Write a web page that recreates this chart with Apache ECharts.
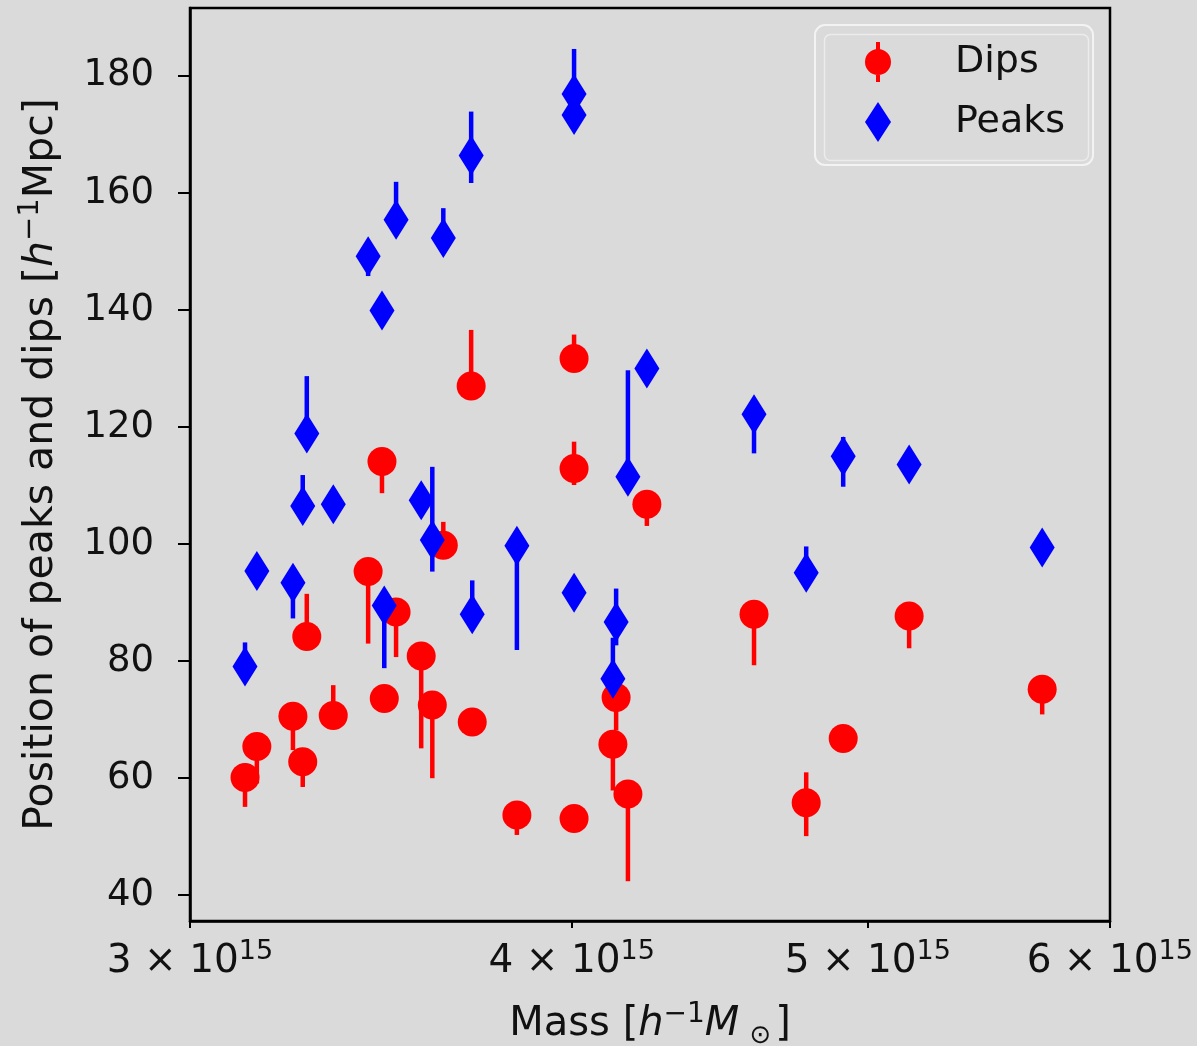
<!DOCTYPE html>
<html>
<head>
<meta charset="utf-8">
<title>Peaks and dips vs mass</title>
<script src="https://cdn.jsdelivr.net/npm/echarts@6/dist/echarts.min.js"></script>
<style>
    html, body {
        margin: 0;
        padding: 0;
        background: #dadada;
    }
    #chart {
        width: 1197px;
        height: 1046px;
    }
</style>
</head>
<body>
<div id="chart"></div>
<script>
// cluster masses [h^-1 M_sun], one dip and one peak per cluster
const mass = [3.127e15, 3.155e15, 3.242e15, 3.266e15, 3.276e15, 3.342e15, 3.431e15,
    3.467e15, 3.473e15, 3.504e15, 3.571e15, 3.601e15, 3.631e15, 3.708e15, 3.711e15,
    3.838e15, 4.007e15, 4.007e15, 4.007e15, 4.126e15, 4.136e15, 4.173e15, 4.233e15,
    4.589e15, 4.773e15, 4.908e15, 5.158e15, 5.702e15];

// dips: value, lower end and upper end of the error bar
const dips = [60.1, 65.4, 70.6, 62.8, 84.2, 70.7, 95.3, 114.1, 73.6, 88.4, 80.9, 72.5, 99.8, 127.0,
    69.6, 53.7, 131.7, 112.9, 53.1, 65.8, 73.8, 57.3, 106.8, 88.0, 55.8, 66.8, 87.7, 75.2];
const dipsLow = [55.1, 59.1, 64.8, 58.5, 84.2, 70.7, 83.0, 108.7, 73.6, 80.7, 65.1, 60.0, 99.8, 127.0,
    69.6, 50.3, 131.7, 110.1, 53.1, 57.9, 68.2, 42.4, 103.1, 79.3, 50.1, 66.8, 82.2, 70.9];
const dipsHigh = [62.5, 65.4, 70.6, 62.8, 91.5, 75.9, 95.3, 114.1, 73.6, 88.4, 80.9, 72.5, 103.8, 136.6,
    69.6, 53.7, 135.8, 117.5, 53.1, 65.8, 73.8, 57.3, 106.8, 88.0, 61.0, 66.8, 87.7, 75.2];

// peaks: value, lower end and upper end of the error bar
const peaks = [79.1, 95.4, 93.4, 106.5, 118.9, 106.8, 149.2, 139.9, 89.5, 155.4, 107.5, 100.7, 152.3, 166.4,
    88.0, 99.7, 176.9, 173.3, 91.7, 77.0, 86.7, 111.5, 130.0, 122.2, 95.1, 115.0, 113.6, 99.4];
const peaksLow = [79.1, 95.4, 87.3, 106.5, 118.9, 106.8, 145.8, 139.9, 78.8, 155.4, 107.5, 95.3, 152.3, 161.7,
    88.0, 81.9, 176.9, 173.3, 91.7, 77.0, 82.7, 111.5, 130.0, 115.5, 95.1, 109.8, 113.6, 99.4];
const peaksHigh = [83.2, 95.4, 93.4, 111.8, 128.7, 106.8, 149.2, 139.9, 89.5, 161.9, 107.5, 113.2, 157.4, 173.9,
    93.8, 99.7, 184.6, 173.3, 91.7, 84.0, 92.4, 129.7, 130.0, 122.2, 99.6, 118.3, 113.6, 99.4];

// tick labels
const xTicks = [3e15, 4e15, 5e15, 6e15];
const yTicks = [40, 60, 80, 100, 120, 140, 160, 180];

const font = 'DejaVu Sans';
const textColor = '#111';

let chartDom = document.getElementById('chart');
let myChart = echarts.init(chartDom);
let option;

function errorSeries(name, low, high, color, z) {
    return {
        name: name,
        type: 'custom',
        z: z,
        silent: true,
        data: mass.map((m, i) => [m, low[i], high[i]]),
        encode: {x: 0, y: [1, 2]},
        renderItem: function (params, api) {
            let top = api.coord([api.value(0), api.value(2)]);
            let bottom = api.coord([api.value(0), api.value(1)]);
            return {
                type: 'line',
                shape: {x1: top[0], y1: top[1], x2: bottom[0], y2: bottom[1]},
                style: {stroke: color, lineWidth: 4.5}
            };
        }
    };
}

// legend icons: marker with a short error bar
const dipIcon = 'path://M12,0 H16 V8 H12 Z M12,32 H16 V40 H12 Z M1,20 A13,13 0 1 1 27,20 A13,13 0 1 1 1,20 Z';
const peakIcon = 'path://M14,0 L27,20 L14,40 L1,20 Z';

option = {
    backgroundColor: '#dadada',
    animation: false,
    grid: {
        left: 190,
        right: 87,
        top: 8,
        bottom: 125,
        outerBoundsMode: 'none',
        containLabel: false,
        show: true,
        borderColor: '#000',
        borderWidth: 2.5,
        backgroundColor: 'transparent'
    },
    legend: {
        orient: 'vertical',
        left: 815,
        top: 25,
        padding: [17, 28, 23, 50],
        itemWidth: 28,
        itemHeight: 40,
        itemGap: 20,
        borderColor: '#f3f3f3',
        borderWidth: 2,
        borderRadius: 10,
        textStyle: {
            fontSize: 38,
            fontFamily: font,
            color: textColor,
            padding: [0, 0, 0, 58]
        },
        data: [
            {name: 'Dips', icon: dipIcon},
            {name: 'Peaks', icon: peakIcon}
        ]
    },
    graphic: [
        {
            type: 'rect',
            left: 822,
            top: 32,
            shape: {width: 264, height: 126, r: 6},
            style: {fill: 'none', stroke: '#ececec', lineWidth: 1.5},
            silent: true
        }
    ],
    xAxis: {
        type: 'log',
        logBase: 10,
        min: 3e15,
        max: 6.001e15,
        name: '{n|Mass [}{i|h}{s|\u22121}{i|M}{b|\u2299}{n|]}',
        nameLocation: 'middle',
        nameGap: 80,
        nameTextStyle: {
            fontFamily: font,
            fontSize: 40,
            color: textColor,
            rich: {
                n: {fontFamily: font, fontSize: 40, color: textColor, lineHeight: 48},
                i: {fontFamily: font, fontSize: 40, color: textColor, fontStyle: 'italic', lineHeight: 48},
                s: {fontFamily: font, fontSize: 28, color: textColor, verticalAlign: 'top', lineHeight: 24},
                b: {fontFamily: font, fontSize: 26, color: textColor, verticalAlign: 'bottom', lineHeight: 20,
                    padding: [0, 4, 0, 10]}
            }
        },
        axisLine: {show: true, lineStyle: {color: '#000', width: 2.5}},
        axisTick: {show: true, customValues: xTicks, length: 7, lineStyle: {color: '#000', width: 2}},
        axisLabel: {
            customValues: xTicks,
            margin: 17,
            formatter: function (value) {
                return '{a|' + Math.round(value / 1e15) + ' \u00d7 10}{s|15}';
            },
            rich: {
                a: {fontFamily: font, fontSize: 39, color: textColor, lineHeight: 48},
                s: {fontFamily: font, fontSize: 27, color: textColor, verticalAlign: 'top', lineHeight: 24}
            }
        },
        splitLine: {show: false},
        minorTick: {show: false}
    },
    yAxis: {
        type: 'value',
        min: 35.6,
        max: 191.6,
        name: '{n|Position of peaks and dips [}{i|h}{s|\u22121}{n|Mpc]}',
        nameLocation: 'middle',
        nameRotate: 90,
        nameGap: 124,
        nameTextStyle: {
            fontFamily: font,
            fontSize: 41,
            color: textColor,
            rich: {
                n: {fontFamily: font, fontSize: 41, color: textColor, lineHeight: 50},
                i: {fontFamily: font, fontSize: 41, color: textColor, fontStyle: 'italic', lineHeight: 50},
                s: {fontFamily: font, fontSize: 29, color: textColor, verticalAlign: 'top', lineHeight: 25}
            }
        },
        axisLine: {show: true, lineStyle: {color: '#000', width: 2.5}},
        axisTick: {show: true, customValues: yTicks, length: 12, lineStyle: {color: '#000', width: 2}},
        axisLabel: {
            customValues: yTicks,
            margin: 36,
            fontFamily: font,
            fontSize: 37,
            color: textColor
        },
        splitLine: {show: false}
    },
    series: [
        errorSeries('Dips err', dipsLow, dipsHigh, '#ff0000', 1),
        {
            name: 'Dips',
            type: 'scatter',
            z: 2,
            symbol: 'circle',
            symbolSize: 29,
            itemStyle: {color: '#ff0000', opacity: 1},
            data: mass.map((m, i) => [m, dips[i]])
        },
        errorSeries('Peaks err', peaksLow, peaksHigh, '#0000ff', 3),
        {
            name: 'Peaks',
            type: 'scatter',
            z: 4,
            symbol: 'diamond',
            symbolSize: [25, 40],
            itemStyle: {color: '#0000ff', opacity: 1},
            data: mass.map((m, i) => [m, peaks[i]])
        }
    ]
};
option && myChart.setOption(option);
</script>
</body>
</html>
